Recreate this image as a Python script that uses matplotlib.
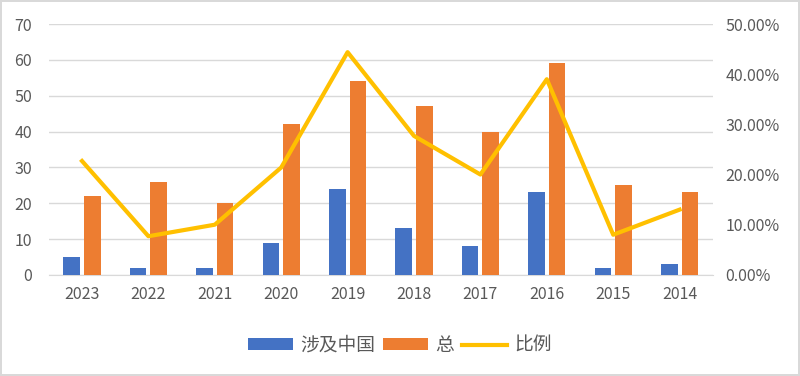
import matplotlib.pyplot as plt
import numpy as np
from matplotlib.ticker import PercentFormatter

plt.rcParams['font.family'] = ['Noto Sans CJK SC', 'DejaVu Sans']

# data
years = ["2023", "2022", "2021", "2020", "2019", "2018", "2017", "2016", "2015", "2014"]
china = [5, 2, 2, 9, 24, 13, 8, 23, 2, 3]
total = [22, 26, 20, 42, 54, 47, 40, 59, 25, 23]
ratio = [22.7, 7.7, 10.0, 21.4, 44.4, 27.7, 20.0, 39.0, 8.0, 13.0]

BLUE = "#4472C4"
ORANGE = "#ED7D31"
YELLOW = "#FFC000"
GRAY = "#595959"

fig = plt.figure(figsize=(8, 3.76), dpi=100)
fig.patch.set_edgecolor("#D9D9D9")
fig.patch.set_linewidth(1.5)
ax = fig.add_axes([0.061, 0.269, 0.83, 0.667])
ax2 = ax.twinx()

x = np.arange(len(years))
w = 0.25
b1 = ax.bar(x - 0.155, china, w, color=BLUE, label="涉及中国", zorder=3)
b2 = ax.bar(x + 0.155, total, w, color=ORANGE, label="总", zorder=3)
l1, = ax2.plot(x, ratio, color=YELLOW, lw=3, label="比例", solid_joinstyle="round")

ax.set_xlim(-0.5, len(years) - 0.5)
ax.set_ylim(0, 70)
ax.set_yticks(range(0, 71, 10))
ax2.set_ylim(0, 50)
ax2.set_yticks(range(0, 51, 10))
ax2.yaxis.set_major_formatter(PercentFormatter(decimals=2))

ax.set_xticks(x)
ax.set_xticklabels(years)
ax.grid(axis="y", color="#D9D9D9", lw=1, zorder=0)
ax.set_axisbelow(True)

for a in (ax, ax2):
    for s in a.spines.values():
        s.set_visible(False)
    a.tick_params(length=0, labelsize=11.5, colors=GRAY)
ax.spines["bottom"].set_visible(True)
ax.spines["bottom"].set_color("#D9D9D9")
ax.tick_params(axis="x", pad=8)
ax.tick_params(axis="y", pad=12)
ax2.tick_params(axis="y", pad=9)

fig.legend([b1, b2, l1], ["涉及中国", "总", "比例"], loc="center",
           bbox_to_anchor=(0.5, 0.082), ncol=3, frameon=False, fontsize=13.5,
           handlelength=2.4, handleheight=0.55, columnspacing=0.4,
           handletextpad=0.4, labelcolor=GRAY)

fig.savefig("out.png", dpi=100)
